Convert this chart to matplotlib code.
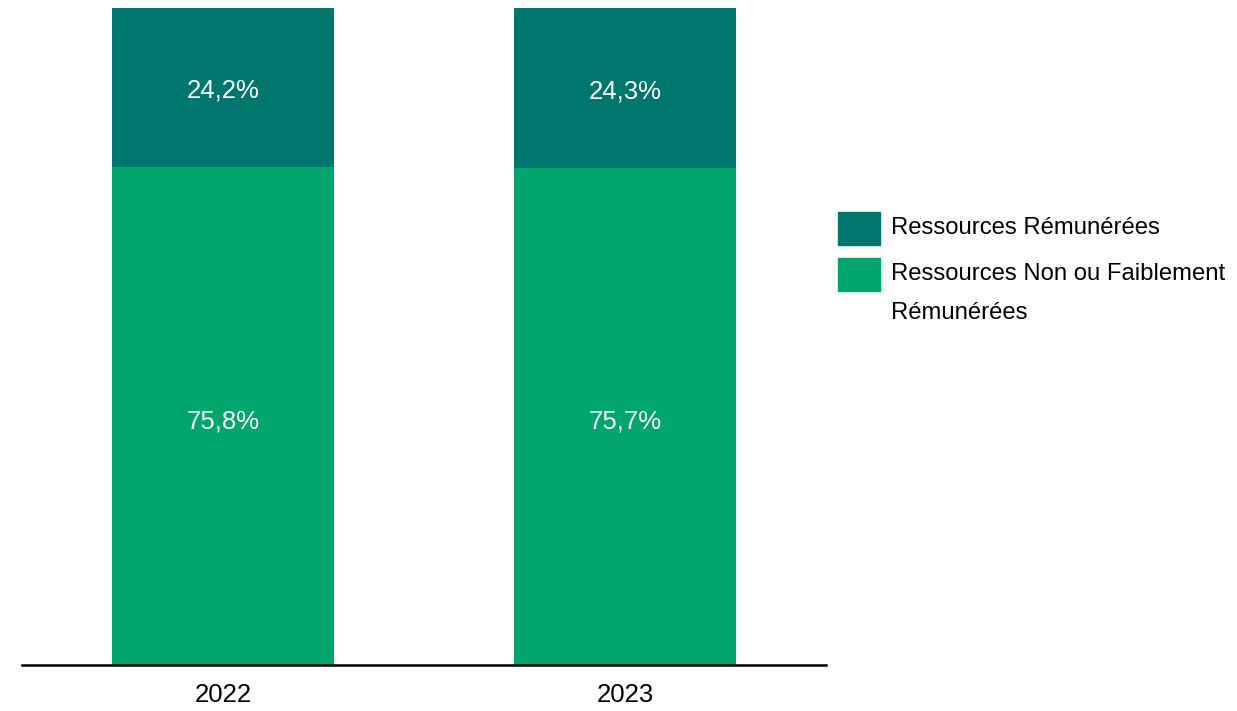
import matplotlib
matplotlib.use("Agg")
import matplotlib.pyplot as plt
from matplotlib.patches import Rectangle

years = ["2022", "2023"]
remunerees = [24.2, 24.3]
non_remunerees = [75.8, 75.7]
series_labels = ["Ressources Rémunérées", "Ressources Non ou Faiblement\nRémunérées"]
c_dark = "#00776E"
c_green = "#00A66C"

plt.rcParams['font.family'] = ['Liberation Sans', 'DejaVu Sans']

fig = plt.figure(figsize=(12.37, 7.11), dpi=100)
ax = fig.add_axes([22/1237, 46/711, 804/1237, 657/711])

x = list(range(len(years)))
w = 0.553
ax.bar(x, non_remunerees, width=w, color=c_green)
ax.bar(x, remunerees, width=w, bottom=non_remunerees, color=c_dark)

for i in x:
    ax.text(i, non_remunerees[i] / 2 - 0.8, f"{non_remunerees[i]:.1f}%".replace('.', ','),
            ha='center', va='center', color='white', fontsize=18.5)
    ax.text(i, non_remunerees[i] + remunerees[i] / 2 - 0.5, f"{remunerees[i]:.1f}%".replace('.', ','),
            ha='center', va='center', color='white', fontsize=18.5)

ax.set_xlim(-0.5, 1.5)
ax.set_ylim(0, 100)
ax.set_xticks(x)
ax.set_xticklabels(years, fontsize=18.5)
ax.tick_params(axis='x', length=0, pad=13)
ax.set_yticks([])
for s in ['top', 'right', 'left']:
    ax.spines[s].set_visible(False)
ax.spines['bottom'].set_linewidth(1.8)

# legend
W, H = 1237, 711
line_gap = 39
for (ytop, col, lab) in [(212, c_dark, series_labels[0]), (258, c_green, series_labels[1])]:
    fig.add_artist(Rectangle((838 / W, 1 - (ytop + 33) / H), 42 / W, 33 / H,
                             transform=fig.transFigure, color=col))
    for k, part in enumerate(lab.split('\n')):
        fig.text(891 / W, 1 - (ytop + 16 + k * line_gap) / H, part, ha='left', va='center',
                 fontsize=17.2, transform=fig.transFigure)

fig.savefig("out.png", dpi=100)
